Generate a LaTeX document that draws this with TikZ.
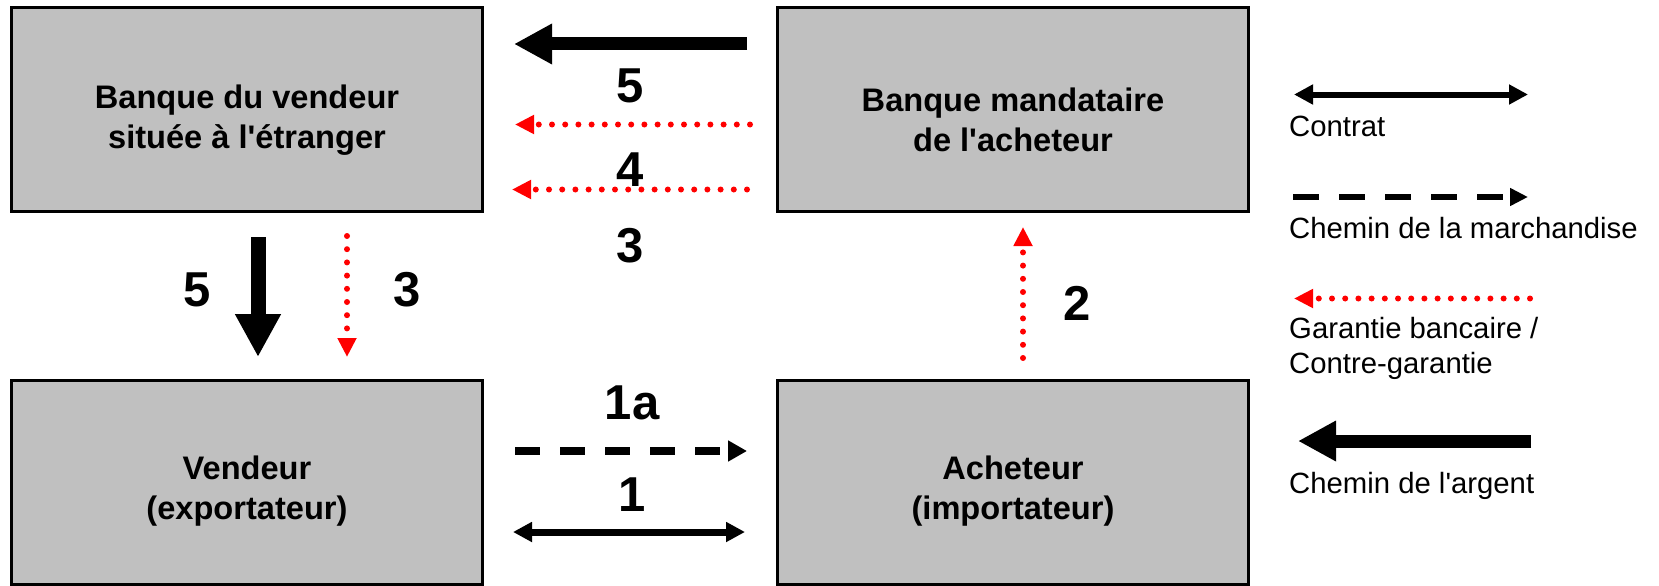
\documentclass[tikz,border=0pt]{standalone}
\usepackage{fontspec}
\setmainfont{Liberation Sans}[Ligatures=TeXOff]
\usetikzlibrary{arrows.meta}
\definecolor{boxgray}{HTML}{C0C0C0}
\definecolor{pred}{HTML}{FF0000}
\begin{document}
\begin{tikzpicture}[x=1pt,y=-1pt,
  box/.style={draw=black,line width=3pt,fill=boxgray,minimum width=471pt,minimum height=204pt,inner sep=0pt,outer sep=0pt},
  boxtext/.style={font=\fontsize{32.6}{40.5}\selectfont\bfseries,align=center,inner sep=0pt},
  num/.style={font=\fontsize{49}{55}\selectfont\bfseries,inner sep=0pt},
  legtext/.style={font=\fontsize{29.3}{35}\selectfont,anchor=base west,inner sep=0pt},
  money/.style={line width=13pt,-{Triangle[length=38pt,width=38pt]}},
  guar/.style={pred,line width=6pt,line cap=round,dash pattern=on 0pt off 13.2pt,-{Triangle[length=19pt,width=18pt]}},
  goods/.style={line width=7.5pt,dash pattern=on 25pt off 20pt,-{Triangle[length=19pt,width=20pt]}},
  contract/.style={line width=7pt,{Triangle[length=19pt,width=19pt]}-{Triangle[length=19pt,width=19pt]}},
]
\useasboundingbox (0,0) rectangle (1659,586);

% boxes
\node[box] (bv) at (247,109.5) {};
\node[box] (bm) at (1013,109.5) {};
\node[box] (ve) at (247,482.5) {};
\node[box] (ac) at (1013,482.5) {};

\node[boxtext] (tbv) at (247,120) {Banque du vendeur\\située à l'étranger};
\node[boxtext] (tbm) at (1013,120) {Banque mandataire\\de l'acheteur};
\node[boxtext] (tve) at (247,491) {Vendeur\\(exportateur)};
\node[boxtext] (tac) at (1013,491) {Acheteur\\(importateur)};

% arrow end points
\coordinate (a5s) at (747,44);   \coordinate (a5e) at (514,44);
\coordinate (a4s) at (750,124.5); \coordinate (a4e) at (515,124.5);
\coordinate (a3s) at (747,189.5); \coordinate (a3e) at (512,189.5);
\coordinate (v5s) at (258,237);  \coordinate (v5e) at (258,357);
\coordinate (v3s) at (347,236);  \coordinate (v3e) at (347,357);
\coordinate (v2s) at (1023,358); \coordinate (v2e) at (1023,227);
\coordinate (g1s) at (515,451);  \coordinate (g1e) at (747,451);
\coordinate (c1s) at (513,532);  \coordinate (c1e) at (745,532);

\draw[money] (a5s) -- (a5e);
\draw[guar] (a4s) -- (a4e);
\draw[guar] (a3s) -- (a3e);
\draw[line width=15pt,-{Triangle[length=43pt,width=43pt]}] (v5s) -- (v5e);
\draw[guar] (v3s) -- (v3e);
\draw[guar] (v2s) -- (v2e);
\draw[goods] (g1s) -- (g1e);
\draw[contract] (c1s) -- (c1e);

% numbers
\node[num] (n5t) at (630,86) {5};
\node[num] (n4) at (630,170) {4};
\node[num] (n3t) at (630,246) {3};
\node[num] (n5l) at (197,290) {5};
\node[num] (n3l) at (407,290) {3};
\node[num] (n2) at (1077,303) {2};
\node[num] (n1a) at (632,403) {1a};
\node[num] (n1) at (632,495) {1};

% legend
\coordinate (lcs) at (1294,94.5);  \coordinate (lce) at (1528,94.5);
\coordinate (lds) at (1293,197);   \coordinate (lde) at (1528,197);
\coordinate (lgs) at (1530,298.5); \coordinate (lge) at (1294,298.5);
\coordinate (lms) at (1531,441);   \coordinate (lme) at (1298,441);

\draw[line width=6pt,{Triangle[length=19pt,width=19pt]}-{Triangle[length=19pt,width=19pt]}] (lcs) -- (lce);
\draw[line width=6pt,dash pattern=on 26pt off 20pt,-{Triangle[length=18pt,width=17pt]}] (lds) -- (lde);
\draw[guar] (lgs) -- (lge);
\draw[money] (lms) -- (lme);

\node[legtext] (l1) at (1289,136) {Contrat};
\node[legtext] (l2) at (1289,238) {Chemin de la marchandise};
\node[legtext] (l3) at (1289,338) {Garantie bancaire /};
\node[legtext] (l3b) at (1289,373) {Contre-garantie};
\node[legtext] (l4) at (1289,493) {Chemin de l'argent};
\end{tikzpicture}
\end{document}
